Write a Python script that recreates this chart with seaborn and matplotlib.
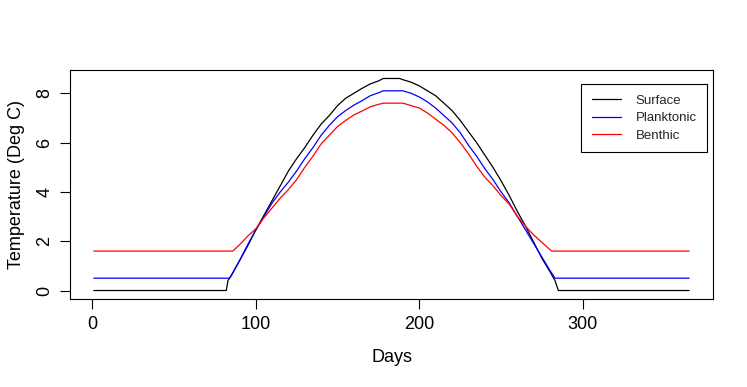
import numpy as np
import pandas as pd
import matplotlib
matplotlib.use("Agg")
import matplotlib.pyplot as plt
import seaborn as sns

# values (day, temperature)
surface_days = [1, 82, 83, 85, 90, 95, 100, 105, 110, 115, 120, 125, 130, 135,
                140, 145, 150, 155, 160, 165, 170, 175, 178, 188, 190, 195, 200,
                205, 210, 215, 220, 225, 230, 235, 240, 245, 250, 255, 260, 265,
                270, 275, 280, 283, 284, 285, 365]
surface_temp = [0, 0, 0.4, 0.6, 1.2, 1.8, 2.45, 3.05, 3.65, 4.25, 4.85, 5.35, 5.8,
                6.3, 6.75, 7.1, 7.5, 7.8, 8.0, 8.2, 8.38, 8.5, 8.6, 8.6, 8.55,
                8.45, 8.3, 8.1, 7.9, 7.6, 7.3, 6.9, 6.45, 6.0, 5.5, 5.0, 4.45,
                3.85, 3.2, 2.6, 1.95, 1.3, 0.75, 0.4, 0.2, 0, 0]

plank_days = [1, 84, 85, 90, 95, 100, 105, 110, 115, 120, 125, 130, 135, 140,
              145, 150, 155, 160, 165, 170, 175, 178, 190, 195, 200, 205, 210,
              215, 220, 225, 230, 235, 240, 245, 250, 255, 260, 265, 270, 275,
              280, 283, 365]
plank_temp = [0.5, 0.5, 0.6, 1.2, 1.85, 2.45, 3.0, 3.55, 4.0, 4.4, 4.85, 5.35,
              5.8, 6.3, 6.7, 7.05, 7.3, 7.52, 7.7, 7.9, 8.02, 8.1, 8.1, 8.0,
              7.85, 7.65, 7.4, 7.1, 6.8, 6.4, 5.9, 5.45, 4.95, 4.5, 4.0, 3.55,
              3.0, 2.45, 1.9, 1.35, 0.8, 0.5, 0.5]

benth_days = [1, 86, 90, 95, 100, 105, 110, 115, 120, 125, 130, 135, 140, 145,
              150, 155, 160, 165, 170, 175, 178, 190, 195, 200, 205, 210, 215,
              220, 225, 230, 235, 240, 245, 250, 255, 260, 265, 270, 275, 280,
              281, 365]
benth_temp = [1.6, 1.6, 1.85, 2.2, 2.5, 2.95, 3.35, 3.75, 4.1, 4.5, 5.0, 5.45,
              5.95, 6.3, 6.65, 6.9, 7.12, 7.28, 7.45, 7.55, 7.6, 7.6, 7.5, 7.4,
              7.2, 6.95, 6.7, 6.4, 6.0, 5.55, 5.05, 4.6, 4.25, 3.85, 3.5, 3.0,
              2.6, 2.25, 1.95, 1.65, 1.6, 1.6]

series_names = ["Surface", "Planktonic", "Benthic"]
series_colors = ["black", "blue", "red"]

df = pd.concat([
    pd.DataFrame({"Days": surface_days, "Temp": surface_temp, "Layer": "Surface"}),
    pd.DataFrame({"Days": plank_days, "Temp": plank_temp, "Layer": "Planktonic"}),
    pd.DataFrame({"Days": benth_days, "Temp": benth_temp, "Layer": "Benthic"}),
], ignore_index=True)

sns.set_theme(style="ticks")
plt.rcParams["font.family"] = ["Liberation Sans", "DejaVu Sans"]

fig = plt.figure(figsize=(7.47, 3.87), dpi=100)
ax = fig.add_axes([0.0937, 0.2274, 0.8608, 0.5917])

sns.lineplot(data=df, x="Days", y="Temp", hue="Layer", hue_order=series_names,
             palette=series_colors, estimator=None, sort=False,
             linewidth=0.9, ax=ax, legend=False)

ax.set_xlim(-13.56, 379.56)
ax.set_ylim(-0.344, 8.944)
ax.set_xticks([0, 100, 200, 300])
ax.set_yticks([0, 2, 4, 6, 8])
ax.tick_params(axis="both", direction="out", length=7, width=0.8,
               color="black", labelsize=13, labelcolor="black", pad=5)
for lab in ax.get_yticklabels():
    lab.set_rotation(90)
    lab.set_va("center")
for sp in ax.spines.values():
    sp.set_visible(True)
    sp.set_color("black")
    sp.set_linewidth(0.8)

ax.set_xlabel("Days", fontsize=13, color="black", labelpad=12)
ax.set_ylabel("Temperature (Deg C)", fontsize=13, color="black", labelpad=8)

handles = [plt.Line2D([], [], color=c, linewidth=0.9) for c in series_colors]
leg = ax.legend(handles, series_names, loc="upper right",
                bbox_to_anchor=(0.991, 0.939), fontsize=9.5, frameon=True,
                fancybox=False, edgecolor="black", framealpha=1,
                handlelength=2.2, borderpad=0.8, labelspacing=0.4,
                handletextpad=1.1, borderaxespad=0)
leg.get_frame().set_linewidth(0.8)

fig.savefig("out.png", dpi=100)
